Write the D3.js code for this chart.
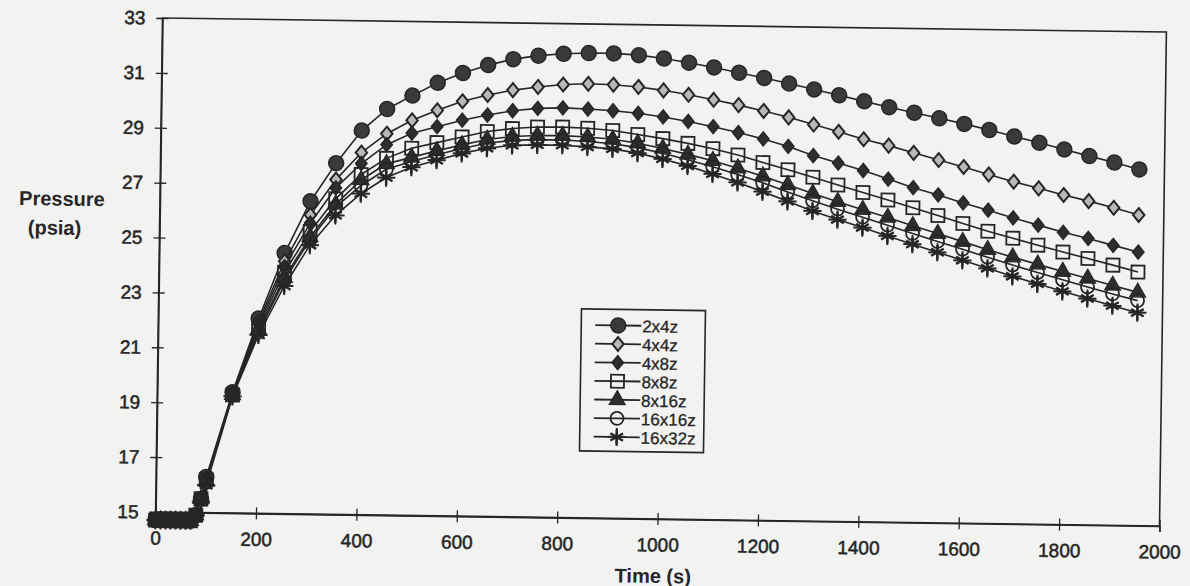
<!DOCTYPE html>
<html>
<head>
<meta charset="utf-8">
<script src="https://cdn.jsdelivr.net/npm/d3@7"></script>
<style>
  html, body { margin: 0; padding: 0; background: #f2f2f0; }
  svg { display: block; }
</style>
</head>
<body>
<div id="chart"></div>
<script>
(function () {
  "use strict";

  // time axis of the runs (s)
  const times = [0, 10, 20, 30, 40, 50, 60, 70, 80, 90, 100,
    150, 200, 250, 300, 350, 400, 450,
    500, 550, 600, 650, 700, 750, 800, 850, 900, 950,
    1000, 1050, 1100, 1150, 1200, 1250, 1300, 1350, 1400, 1450,
    1500, 1550, 1600, 1650, 1700, 1750, 1800, 1850, 1900, 1950];

  const p2x4z = [14.7, 14.7, 14.7, 14.7, 14.7, 14.7, 14.7, 14.7, 14.9, 15.5, 16.3,
    19.4, 22.1, 24.5, 26.4, 27.8, 29.0, 29.8,
    30.3, 30.78, 31.15, 31.45, 31.68, 31.82, 31.9, 31.94, 31.94, 31.89,
    31.78, 31.64, 31.48, 31.3, 31.12, 30.93, 30.73, 30.53, 30.32, 30.12,
    29.93, 29.74, 29.55, 29.34, 29.12, 28.9, 28.67, 28.44, 28.22, 27.98];

  const p4x4z = [14.7, 14.7, 14.7, 14.7, 14.7, 14.7, 14.7, 14.7, 14.9, 15.5, 16.25,
    19.35, 22.0, 24.2, 25.9, 27.2, 28.2, 28.9,
    29.4, 29.78, 30.12, 30.36, 30.55, 30.68, 30.78, 30.82, 30.8, 30.73,
    30.62, 30.47, 30.3, 30.12, 29.92, 29.7, 29.45, 29.2, 28.94, 28.72,
    28.47, 28.22, 27.98, 27.72, 27.47, 27.24, 27.01, 26.8, 26.57, 26.32];

  const p4x8z = [14.7, 14.7, 14.7, 14.7, 14.7, 14.7, 14.7, 14.7, 14.9, 15.5, 16.2,
    19.3, 21.9, 24.0, 25.6, 26.9, 27.8, 28.5,
    28.93, 29.18, 29.43, 29.63, 29.8, 29.9, 29.93, 29.9, 29.85, 29.77,
    29.65, 29.5, 29.32, 29.12, 28.9, 28.64, 28.32, 28.06, 27.8, 27.5,
    27.2, 26.95, 26.67, 26.42, 26.15, 25.9, 25.65, 25.44, 25.2, 24.97];

  const p8x8z = [14.7, 14.7, 14.7, 14.7, 14.7, 14.7, 14.7, 14.7, 14.9, 15.5, 16.2,
    19.3, 21.8, 23.8, 25.3, 26.5, 27.4, 28.0,
    28.38, 28.6, 28.82, 29.03, 29.15, 29.22, 29.23, 29.2, 29.13, 29.0,
    28.86, 28.7, 28.52, 28.3, 28.04, 27.79, 27.53, 27.26, 27.0, 26.74,
    26.47, 26.2, 25.92, 25.65, 25.41, 25.17, 24.93, 24.71, 24.48, 24.24];

  const p8x16z = [14.7, 14.7, 14.7, 14.7, 14.7, 14.7, 14.7, 14.7, 14.9, 15.5, 16.15,
    19.3, 21.7, 23.6, 25.1, 26.3, 27.2, 27.8,
    28.05, 28.3, 28.53, 28.74, 28.86, 28.91, 28.92, 28.88, 28.81, 28.68,
    28.5, 28.3, 28.08, 27.82, 27.54, 27.24, 26.94, 26.65, 26.37, 26.1,
    25.81, 25.54, 25.26, 24.98, 24.72, 24.47, 24.22, 23.98, 23.74, 23.5];

  const p16x16z = [14.7, 14.7, 14.7, 14.7, 14.7, 14.7, 14.7, 14.7, 14.9, 15.5, 16.1,
    19.3, 21.6, 23.5, 25.0, 26.2, 27.0, 27.6,
    27.9, 28.16, 28.4, 28.6, 28.72, 28.76, 28.76, 28.72, 28.65, 28.52,
    28.33, 28.1, 27.86, 27.59, 27.3, 26.98, 26.67, 26.38, 26.1, 25.82,
    25.53, 25.25, 24.98, 24.7, 24.43, 24.17, 23.92, 23.67, 23.43, 23.2];

  const p16x32z = [14.7, 14.7, 14.7, 14.7, 14.7, 14.7, 14.7, 14.7, 14.9, 15.4, 16.0,
    19.25, 21.5, 23.3, 24.8, 25.9, 26.7, 27.3,
    27.69, 27.96, 28.22, 28.42, 28.54, 28.57, 28.57, 28.52, 28.46, 28.32,
    28.12, 27.88, 27.6, 27.3, 26.98, 26.64, 26.3, 26.0, 25.72, 25.43,
    25.14, 24.86, 24.58, 24.3, 24.02, 23.76, 23.5, 23.25, 23.0, 22.76];

  const seriesNames = ["2x4z", "4x4z", "4x8z", "8x8z", "8x16z", "16x16z", "16x32z"];
  const seriesValues = [p2x4z, p4x4z, p4x8z, p8x8z, p8x16z, p16x16z, p16x32z];
  const markerKinds = ["dot", "diamondOpen", "diamond", "square", "triangle", "ring", "asterisk"];

  const xTicks = [0, 200, 400, 600, 800, 1000, 1200, 1400, 1600, 1800, 2000];
  const yTicks = [15, 17, 19, 21, 23, 25, 27, 29, 31, 33];

  const width = 1190;
  const height = 586;
  const margin = { top: 25, right: 27, bottom: 67, left: 159 };
  const ink = "#262626";
  const font = "'Liberation Sans', Arial, sans-serif";

  const svg = d3.select("#chart").append("svg")
    .attr("width", width)
    .attr("height", height)
    .style("background", "#f2f2f0");

  // the scanned page sits slightly askew
  const root = svg.append("g").attr("transform", "rotate(0.8, 661, 272)");

  const x = d3.scaleLinear().domain([0, 2000]).range([margin.left, width - margin.right]);
  const y = d3.scaleLinear().domain([15, 33]).range([height - margin.bottom, margin.top]);

  // frame
  root.append("rect")
    .attr("x", x(0))
    .attr("y", y(33))
    .attr("width", x(2000) - x(0))
    .attr("height", y(15) - y(33))
    .attr("fill", "none")
    .attr("stroke", ink)
    .attr("stroke-width", 1.6);

  root.append("g")
    .attr("transform", "translate(0," + y(15) + ")")
    .call(d3.axisBottom(x).tickValues(xTicks).tickSize(6).tickPadding(13).tickFormat(d3.format("d")))
    .call(function (g) {
      g.select(".domain").attr("stroke", ink).attr("stroke-width", 1.6);
      g.selectAll(".tick line").attr("y1", -6).attr("y2", 6).attr("stroke", ink).attr("stroke-width", 1.3);
      g.selectAll("text").attr("fill", ink).attr("font-size", 19).attr("font-family", font)
        .attr("stroke", ink).attr("stroke-width", 0.5);
    });

  root.append("g")
    .attr("transform", "translate(" + x(0) + ",0)")
    .call(d3.axisLeft(y).tickValues(yTicks).tickSize(6).tickPadding(11).tickFormat(d3.format("d")))
    .call(function (g) {
      g.select(".domain").attr("stroke", ink).attr("stroke-width", 1.6);
      g.selectAll(".tick line").attr("x1", -6).attr("x2", 6).attr("stroke", ink).attr("stroke-width", 1.3);
      g.selectAll("text").attr("fill", ink).attr("font-size", 19).attr("font-family", font)
        .attr("stroke", ink).attr("stroke-width", 0.5);
    });

  function title(txt, tx, ty) {
    root.append("text")
      .attr("x", tx).attr("y", ty)
      .attr("text-anchor", "middle")
      .attr("font-family", font)
      .attr("font-weight", "bold").attr("font-size", 20).attr("fill", ink)
      .text(txt);
  }
  title("Pressure", 61, 214);
  title("(psia)", 54, 243);
  title("Time (s)", x(1000) - 4, 583);

  const diamondType = {
    draw: function (ctx, size) {
      const h = Math.sqrt(size) * 0.78;
      const w = h * 0.82;
      ctx.moveTo(0, -h); ctx.lineTo(w, 0); ctx.lineTo(0, h); ctx.lineTo(-w, 0); ctx.closePath();
    }
  };

  function drawMarker(sel, kind) {
    if (kind === "dot") {
      sel.append("circle").attr("r", 7.5).attr("fill", "#3a3a3a").attr("stroke", ink).attr("stroke-width", 1.5);
    } else if (kind === "diamondOpen") {
      sel.append("path").attr("d", d3.symbol(diamondType, 80)()).attr("fill", "#b8b8b8").attr("stroke", ink).attr("stroke-width", 2);
    } else if (kind === "diamond") {
      sel.append("path").attr("d", d3.symbol(diamondType, 80)()).attr("fill", "#2e2e2e").attr("stroke", ink).attr("stroke-width", 1.5);
    } else if (kind === "square") {
      sel.append("path").attr("d", d3.symbol(d3.symbolSquare, 170)()).attr("fill", "none").attr("stroke", ink).attr("stroke-width", 1.8);
    } else if (kind === "triangle") {
      sel.append("path").attr("d", d3.symbol(d3.symbolTriangle, 110)()).attr("fill", "#2e2e2e").attr("stroke", ink).attr("stroke-width", 1.2);
    } else if (kind === "ring") {
      sel.append("circle").attr("r", 6.5).attr("fill", "none").attr("stroke", ink).attr("stroke-width", 1.8);
    } else {
      sel.append("path").attr("d", d3.symbol(d3.symbolAsterisk, 150)()).attr("fill", "none").attr("stroke", ink).attr("stroke-width", 2.4);
      sel.append("path").attr("d", d3.symbol(d3.symbolPlus, 110)()).attr("fill", "none").attr("stroke", ink).attr("stroke-width", 2);
    }
  }

  const line = d3.line()
    .x(function (d) { return x(d[0]); })
    .y(function (d) { return y(d[1]); });

  const plot = root.append("g");

  seriesValues.forEach(function (vals, si) {
    const pts = times.map(function (t, i) { return [t, vals[i]]; });
    const g = plot.append("g");
    g.append("path")
      .datum(pts)
      .attr("d", line)
      .attr("fill", "none")
      .attr("stroke", ink)
      .attr("stroke-width", 1.6);
    g.selectAll("g.mk")
      .data(pts)
      .enter()
      .append("g")
      .attr("class", "mk")
      .attr("transform", function (d) { return "translate(" + x(d[0]) + "," + y(d[1]) + ")"; })
      .each(function () { drawMarker(d3.select(this), markerKinds[si]); });
  });

  // legend
  const legend = root.append("g").attr("transform", "translate(582,310)");
  legend.append("rect")
    .attr("x", 0).attr("y", 0).attr("width", 124).attr("height", 142)
    .attr("fill", "#f2f2f0").attr("stroke", ink).attr("stroke-width", 1.6);
  seriesNames.forEach(function (name, i) {
    const row = legend.append("g").attr("transform", "translate(0," + (16 + i * 18.6) + ")");
    row.append("line").attr("x1", 14).attr("x2", 60).attr("y1", 0).attr("y2", 0)
      .attr("stroke", ink).attr("stroke-width", 1.8);
    const m = row.append("g").attr("transform", "translate(37,0)");
    drawMarker(m, markerKinds[i]);
    row.append("text").attr("x", 61).attr("y", 6.5)
      .attr("font-family", font)
      .attr("font-size", 17).attr("fill", ink)
      .attr("stroke", ink).attr("stroke-width", 0.3)
      .text(name);
  });
})();
</script>
</body>
</html>
